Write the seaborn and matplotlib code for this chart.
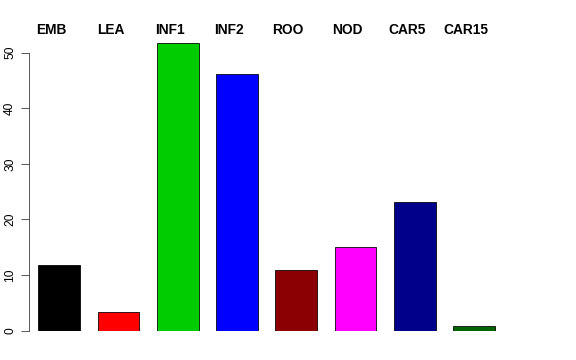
import matplotlib
matplotlib.use("Agg")
import matplotlib.pyplot as plt
import matplotlib.transforms as mtransforms
import seaborn as sns

# tissue groups and their values
tissues = ["EMB", "LEA", "INF1", "INF2", "ROO", "NOD", "CAR5", "CAR15"]
counts = [11.75, 3.3, 51.65, 46.1, 11.0, 15.0, 23.1, 0.85]
bar_colors = ["#000000", "#FF0000", "#00CD00", "#0000FF",
              "#8B0000", "#FF00FF", "#00008B", "#006400"]

sns.set_style("white")
plt.rcParams["font.family"] = ["Liberation Sans", "DejaVu Sans"]
plt.rcParams["text.color"] = "black"
plt.rcParams["ytick.color"] = "black"
plt.rcParams["ytick.labelcolor"] = "black"

W, H = 576, 360
fig = plt.figure(figsize=(W / 72, H / 72), dpi=72)
# axes placed in pixel terms: left spine at x=29, y=0 at 330.7 px
ax = fig.add_axes([29 / W, (H - 330.7) / H, (560 - 29) / W, (330.7 - 40) / H])

sns.barplot(x=tissues, y=counts, hue=tissues, palette=bar_colors,
            legend=False, width=0.706, edgecolor="black", linewidth=0.8,
            saturation=1, ax=ax)

ax.set_xlim(-0.511, 8.452)
ax.set_ylim(0, 52.25)

for s in ["top", "right", "bottom"]:
    ax.spines[s].set_visible(False)
ax.spines["left"].set_bounds(0, 50)
ax.spines["left"].set_color("#333333")
ax.spines["left"].set_linewidth(0.8)

ax.set_xticks([])
ax.set_yticks([0, 10, 20, 30, 40, 50])
ax.set_yticklabels(["0", "10", "20", "30", "40", "50"], rotation=90,
                   va="center", fontsize=12, color="black")
ax.tick_params(axis="y", direction="out", length=8, width=0.8,
               color="#333333", pad=5, left=True)
ax.set_xlabel("")
ax.set_ylabel("")

# group names above the bars
trans = mtransforms.blended_transform_factory(ax.transData, fig.transFigure)
for i, name in enumerate(tissues):
    ax.text(i - 0.135, 1 - 30.5 / H, name, transform=trans, ha="center",
            va="center", fontsize=13.8, fontweight="bold", color="black")

fig.savefig("out.png", dpi=72)
